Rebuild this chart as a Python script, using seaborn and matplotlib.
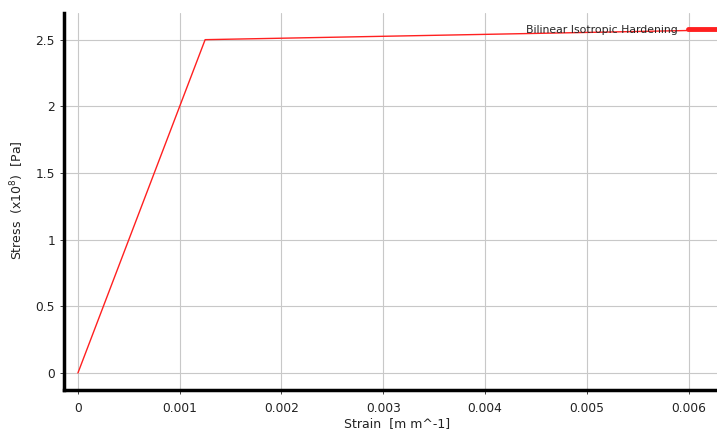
import matplotlib
matplotlib.use("Agg")
import matplotlib.pyplot as plt
import seaborn as sns
import pandas as pd

# bilinear hardening curve (stress in 1e8 Pa)
strain = [0.0, 0.00125, 0.0063]
stress = [0.0, 2.5, 2.573]
x_ticks = [0, 0.001, 0.002, 0.003, 0.004, 0.005, 0.006]
x_tick_labels = ["0", "0.001", "0.002", "0.003", "0.004", "0.005", "0.006"]
y_ticks = [0, 0.5, 1, 1.5, 2, 2.5]
y_tick_labels = ["0", "0.5", "1", "1.5", "2", "2.5"]

df = pd.DataFrame({"Strain": strain, "Stress": stress})

sns.set_style("whitegrid")
plt.rcParams['font.family'] = ['DejaVu Sans']

fig = plt.figure(figsize=(7.17, 4.33), dpi=100)
ax = fig.add_axes([64 / 717, 1 - 390 / 433, 1 - 64 / 717, (390 - 13) / 433])

sns.lineplot(data=df, x="Strain", y="Stress", sort=False, color="#ff2020",
             linewidth=1.0, ax=ax, label="Bilinear Isotropic Hardening")

ax.set_xlim(-0.000137, 0.00628)
ax.set_ylim(-0.128, 2.70)
ax.set_xticks(x_ticks)
ax.set_xticklabels(x_tick_labels)
ax.set_yticks(y_ticks)
ax.set_yticklabels(y_tick_labels)
ax.tick_params(axis="both", labelsize=8.8, colors="#222222", length=3, width=0.6,
               direction="out", left=True, bottom=True)
ax.tick_params(axis="x", pad=6)
ax.grid(True, color="#c8c8c8", linewidth=0.8)

for side in ["top", "right"]:
    ax.spines[side].set_visible(False)
ax.spines["left"].set_color("black")
ax.spines["left"].set_linewidth(2.5)
ax.spines["bottom"].set_color("black")
ax.spines["bottom"].set_linewidth(2.5)

ax.set_xlabel("")
ax.set_ylabel("")
fig.text(397 / 717, 1 - 424 / 433, "Strain  [m m^-1]", fontsize=9, color="#222222",
         ha="center", va="center")
fig.text(17 / 717, 1 - 200 / 433, "Stress  (x10$^{8}$)  [Pa]", fontsize=9,
         color="#222222", ha="center", va="center", rotation=90)

leg = ax.legend(loc="upper left", bbox_to_anchor=((526 - 64) / 653, 0.969),
                frameon=False, borderpad=0, borderaxespad=0,
                markerfirst=False, fontsize=7.8, handlelength=4.0, handletextpad=0.9)
for line in leg.get_lines():
    line.set_linewidth(3.5)

fig.savefig("out.png", dpi=100)
